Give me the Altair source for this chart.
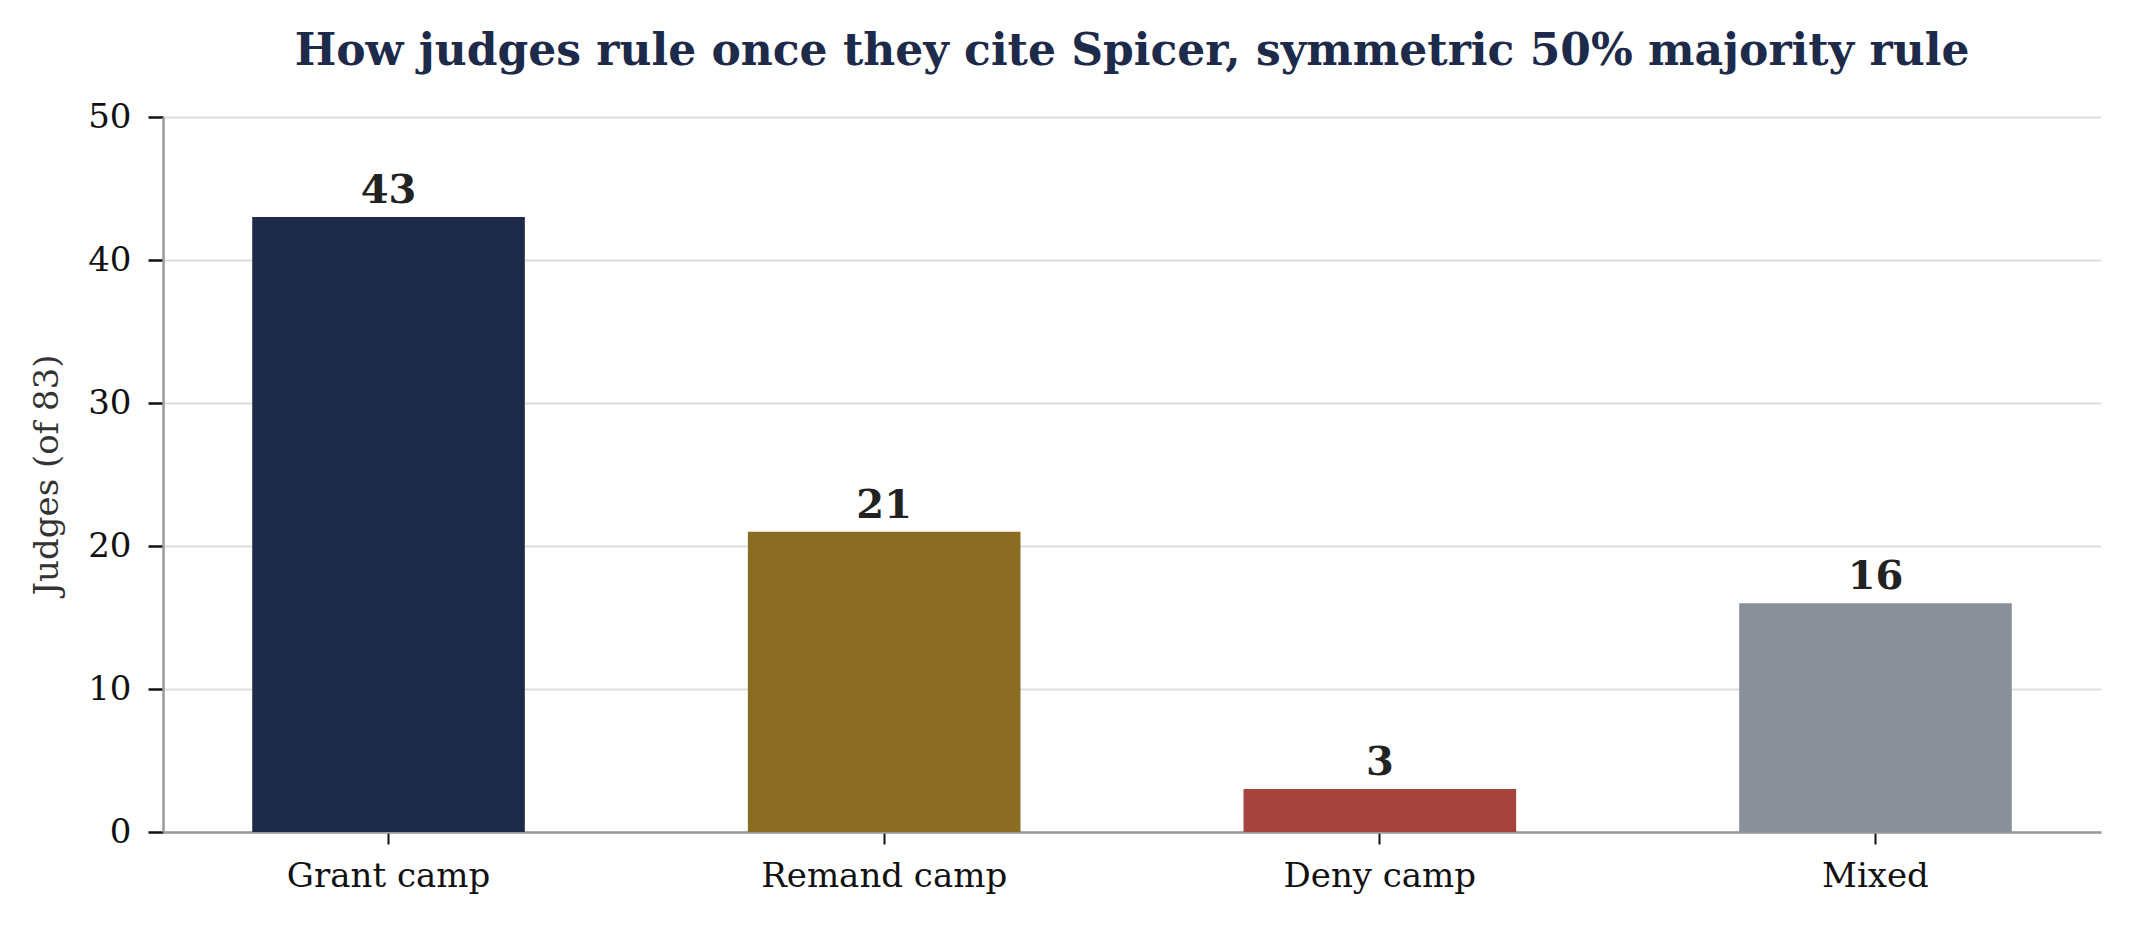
import altair as alt
import pandas as pd

categories = ["Grant camp", "Remand camp", "Deny camp", "Mixed"]
judges = [43, 21, 3, 16]
bar_colors = ["#1d2a4a", "#8a6d22", "#a6433e", "#8b8f98"]
y_ticks = [0, 10, 20, 30, 40, 50]

df = pd.DataFrame({"camp": categories, "judges": judges})

FONT = "DejaVu Serif"

base = alt.Chart(df).encode(
    x=alt.X("camp:N", sort=categories, title=None,
            scale=alt.Scale(paddingInner=0.45, paddingOuter=0.18),
            axis=alt.Axis(labelAngle=0, labelFont=FONT, labelFontSize=34,
                          labelColor="#111", labelPadding=15, labelLimit=600,
                          tickSize=12, tickWidth=2, tickColor="#111",
                          domainColor="#999", domainWidth=2.5, grid=False)),
    y=alt.Y("judges:Q", title="Judges (of 83)",
            scale=alt.Scale(domain=[0, 50]),
            axis=alt.Axis(values=y_ticks, labelFont=FONT, labelFontSize=34,
                          labelColor="#111", labelPadding=17,
                          tickSize=15, tickWidth=2.5, tickColor="#111",
                          domainColor="#999", domainWidth=2.5,
                          gridColor="#dddddd", gridWidth=1.8,
                          titleFont=FONT, titleFontSize=34, titleFontWeight="normal",
                          titleColor="#333", titleX=-116, titleY=357.5,
                          titleBaseline="middle", titleAlign="center")),
)

bars = base.mark_bar().encode(
    color=alt.Color("camp:N", scale=alt.Scale(domain=categories, range=bar_colors),
                    legend=None)
)

labels = base.mark_text(dy=-14, baseline="alphabetic", font=FONT, fontSize=40,
                        fontWeight="bold", color="#222").encode(text="judges:Q")

chart = (bars + labels).properties(
    width=1938, height=715,
    autosize=alt.AutoSizeParams(type="none"),
    padding={"left": 155, "top": 109, "right": 21, "bottom": 90},
    title=alt.Title("How judges rule once they cite Spicer, symmetric 50% majority rule",
                    font=FONT, fontSize=44, fontWeight="bold", color="#1d2a4a",
                    anchor="middle", frame="group", offset=-9, baseline="alphabetic"),
).configure_view(strokeWidth=0)

chart.save("out.html", embed_options={"renderer": "svg", "actions": False})
